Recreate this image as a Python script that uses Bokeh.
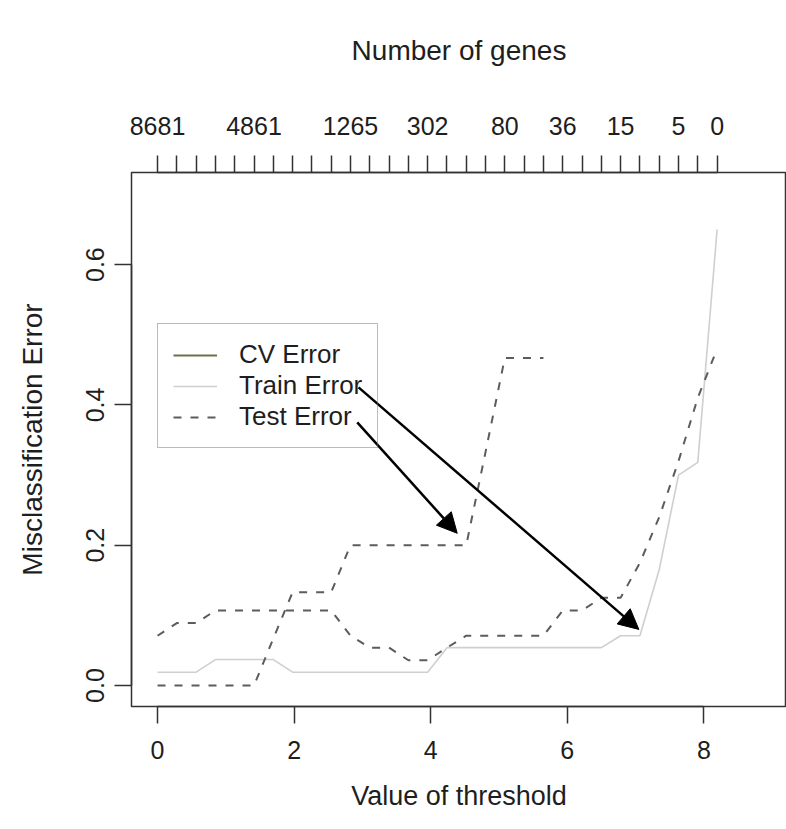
from bokeh.plotting import figure
from bokeh.models import (Range1d, LinearAxis, FixedTicker, PrintfTickFormatter,
                          Legend, LegendItem, Arrow, NormalHead)
from bokeh.embed import file_html
from bokeh.resources import INLINE

# ---- data -----------------------------------------------------------------
thresholds = [0.000, 0.283, 0.565, 0.848, 1.130, 1.413, 1.695, 1.978, 2.260, 2.543,
              2.825, 3.108, 3.390, 3.673, 3.955, 4.238, 4.520, 4.803, 5.085, 5.368,
              5.650, 5.933, 6.215, 6.498, 6.780, 7.063, 7.345, 7.628, 7.910, 8.193]

n_genes_labels = ["8681", "", "", "", "", "4861", "", "", "", "",
                  "1265", "", "", "", "302", "", "", "", "80", "",
                  "", "36", "", "", "15", "", "", "5", "", "0"]

train_error = [0.019, 0.019, 0.019, 0.037, 0.037, 0.037, 0.037, 0.019, 0.019, 0.019,
               0.019, 0.019, 0.019, 0.019, 0.019, 0.054, 0.054, 0.054, 0.054, 0.054,
               0.054, 0.054, 0.054, 0.054, 0.071, 0.071, 0.165, 0.300, 0.318, 0.650]

nan = float("nan")
test_error_1 = [0.000, 0.000, 0.000, 0.000, 0.000, 0.000, 0.067, 0.133, 0.133, 0.133,
                0.200, 0.200, 0.200, 0.200, 0.200, 0.200, 0.200, 0.333, 0.467, 0.467,
                0.467, nan, nan, nan, nan, nan, nan, nan, nan, nan]

test_error_2 = [0.071, 0.089, 0.089, 0.107, 0.107, 0.107, 0.107, 0.107, 0.107, 0.107,
                0.071, 0.054, 0.054, 0.036, 0.036, 0.054, 0.071, 0.071, 0.071, 0.071,
                0.071, 0.107, 0.107, 0.125, 0.125, 0.175, 0.240, 0.320, 0.410, 0.480]

# CV error curve is not visible in the picture (only its legend key)
cv_error = [nan, nan]
cv_x = [nan, nan]

x_ticks = [0, 2, 4, 6, 8]
y_ticks = [0.0, 0.2, 0.4, 0.6]

legend_labels = ["CV Error", "Train Error", "Test Error"]

# annotation arrows: (x_start, y_start) -> (x_end, y_end) in data units
arrow_starts_x = [2.924, 2.943]
arrow_starts_y = [0.375, 0.425]
arrow_ends_x = [4.388, 7.047]
arrow_ends_y = [0.217, 0.080]

# ---- styling ---------------------------------------------------------------
FONT = "Liberation Sans"
TXT = "#1e1e1e"
AX = "#333333"

p = figure(width=786, height=825,
           x_range=Range1d(-0.381, 9.209), y_range=Range1d(-0.0299, 0.7313),
           output_backend="svg", toolbar_location=None,
           min_border_left=131, min_border_top=172, min_border_bottom=119,
           min_border_right=0, x_axis_location=None, y_axis_location=None)
p.grid.visible = False
p.outline_line_color = AX
p.outline_line_width = 1.5
p.background_fill_color = "white"
p.border_fill_color = "white"


def style_axis(ax, tick_size, label_size):
    ax.major_tick_in = 0
    ax.major_tick_out = 17
    ax.minor_tick_line_color = None
    ax.major_tick_line_color = AX
    ax.major_tick_line_width = 1.5
    ax.axis_line_color = AX
    ax.axis_line_width = 1.5
    ax.major_label_text_font = FONT
    ax.major_label_text_font_size = tick_size
    ax.major_label_text_color = TXT
    ax.axis_label_text_font = FONT
    ax.axis_label_text_font_size = label_size
    ax.axis_label_text_font_style = "normal"
    ax.axis_label_text_color = TXT


xb = LinearAxis(ticker=FixedTicker(ticks=x_ticks), axis_label="Value of threshold",
                bounds=(x_ticks[0], x_ticks[-1]))
style_axis(xb, "25px", "27px")
xb.major_label_standoff = 17
xb.axis_label_standoff = 19
p.add_layout(xb, "below")

yl = LinearAxis(ticker=FixedTicker(ticks=y_ticks), axis_label="Misclassification Error",
                formatter=PrintfTickFormatter(format="%.1f"),
                bounds=(y_ticks[0], y_ticks[-1]))
style_axis(yl, "25px", "28px")
yl.major_label_orientation = "parallel"
yl.major_label_standoff = 10
yl.axis_label_standoff = 36
p.add_layout(yl, "left")

overrides = {t: lab for t, lab in zip(thresholds, n_genes_labels)}
xt = LinearAxis(ticker=FixedTicker(ticks=thresholds), axis_label="Number of genes",
                major_label_overrides=overrides,
                bounds=(thresholds[0], thresholds[-1]))
style_axis(xt, "25px", "28px")
xt.major_label_standoff = 21
xt.axis_label_standoff = 48
p.add_layout(xt, "above")

# ---- lines -----------------------------------------------------------------
r_cv = p.line(cv_x, cv_error, line_color="#6e6e4c", line_width=2)
r_train = p.line(thresholds, train_error, line_color="#cfcfcf", line_width=1.6)
r_test1 = p.line(thresholds, test_error_1, line_color="#5c5c5c", line_width=2,
                 line_dash="8 9")
r_test2 = p.line(thresholds, test_error_2, line_color="#5c5c5c", line_width=2,
                 line_dash="8 9")

legend = Legend(items=[LegendItem(label=legend_labels[0], renderers=[r_cv]),
                       LegendItem(label=legend_labels[1], renderers=[r_train]),
                       LegendItem(label=legend_labels[2], renderers=[r_test1])],
                location=(26, 258))
legend.label_text_font = FONT
legend.label_text_font_size = "26px"
legend.label_text_color = TXT
legend.glyph_width = 44
legend.label_standoff = 22
legend.padding = 15
legend.spacing = -3
legend.margin = 0
legend.border_line_color = "#777777"
legend.border_line_width = 1.5
legend.background_fill_alpha = 0.0
p.add_layout(legend, "center")

for xs, ys, xe, ye in zip(arrow_starts_x, arrow_starts_y, arrow_ends_x, arrow_ends_y):
    p.add_layout(Arrow(x_start=xs, y_start=ys, x_end=xe, y_end=ye,
                       line_color="black", line_width=2.5, level="overlay",
                       end=NormalHead(size=20, fill_color="black", line_color="black")))

open("out.html", "w").write(file_html(p, INLINE))
